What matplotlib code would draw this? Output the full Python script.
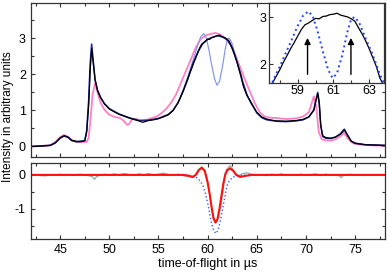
import numpy as np
import matplotlib
matplotlib.use("Agg")
import matplotlib.pyplot as plt
from matplotlib.ticker import MultipleLocator

plt.rcParams['font.family'] = ['Liberation Sans', 'DejaVu Sans']
plt.rcParams['font.size'] = 9
plt.rcParams['axes.unicode_minus'] = False

# measured signal (black)
black_t = [42.0, 43.0, 44.0, 44.5, 45.0, 45.4, 45.8, 46.2, 46.7, 47.2, 47.5, 47.7, 47.9, 48.05, 48.2,
           48.35, 48.55, 48.8, 49.1, 49.5, 50.0, 50.5, 51.0, 51.5, 52.0, 52.5, 53.0, 53.4, 54.0, 54.5,
           55.0, 55.5, 56.0, 56.5,
           57.0, 57.2, 57.4, 57.6, 57.8, 58.0, 58.2, 58.4, 58.6, 58.8, 59.0, 59.2, 59.4, 59.6, 59.8,
           60.0, 60.2, 60.4, 60.6, 60.8, 61.0, 61.2, 61.4, 61.6, 61.8, 62.0, 62.2, 62.4, 62.6, 62.8,
           63.0, 63.2, 63.4, 63.6, 63.8, 64.0,
           64.5, 65.0, 65.5, 66.0, 66.5, 67.0, 68.0, 69.0, 69.7, 70.3, 70.8, 71.0, 71.2, 71.35, 71.5,
           71.7, 72.0, 72.5, 73.0, 73.5, 73.9, 74.2, 74.6, 75.0, 75.5, 76.0, 77.0, 78.0]
black_v = [0.00, 0.01, 0.03, 0.10, 0.24, 0.30, 0.26, 0.17, 0.14, 0.15, 0.16, 0.40, 1.15, 2.10, 2.72,
           2.35, 1.85, 1.55, 1.36, 1.18, 1.04, 0.96, 0.89, 0.84, 0.79, 0.75, 0.71, 0.67, 0.72, 0.74,
           0.77, 0.82, 0.88, 1.00,
           1.22, 1.34, 1.47, 1.60, 1.74, 1.88, 2.04, 2.18, 2.33, 2.46, 2.60, 2.74, 2.84, 2.88, 2.93,
           2.98, 2.97, 3.02, 3.03, 3.06, 3.07, 3.09, 3.05, 3.03, 3.01, 2.97, 2.92, 2.78, 2.65, 2.50,
           2.33, 2.14, 1.95, 1.70, 1.55, 1.42,
           1.18, 0.95, 0.82, 0.76, 0.73, 0.71, 0.70, 0.72, 0.75, 0.82, 1.00, 1.25, 1.46, 1.20, 0.60,
           0.30, 0.25, 0.23, 0.26, 0.34, 0.46, 0.32, 0.15, 0.09, 0.07, 0.05, 0.04, 0.03]

# simulation without the hole (navy)
navy_t = [42.0, 44.0, 44.5, 45.0, 45.4, 45.8, 46.2, 46.7, 47.2, 47.5, 47.7, 47.9, 48.05, 48.2, 48.35,
          48.55, 48.8, 49.1, 49.5, 50.0, 51.0, 52.0, 53.0, 54.0, 55.0, 56.0, 56.5, 57.0, 57.5, 58.0,
          58.5, 59.0, 59.5, 60.0, 60.5, 61.0, 61.5, 62.0, 62.5, 63.0, 63.5, 64.0, 64.5, 65.0, 65.5,
          66.0, 67.0, 68.0, 69.0, 69.7, 70.3, 70.8, 71.0, 71.2, 71.35, 71.5, 71.7, 72.0, 72.5, 73.0,
          73.5, 73.9, 74.2, 74.6, 75.0, 76.0, 78.0]
navy_v = [0.00, 0.03, 0.10, 0.23, 0.29, 0.25, 0.16, 0.13, 0.14, 0.16, 0.45, 1.30, 2.30, 2.84, 2.40,
          1.85, 1.56, 1.37, 1.19, 1.05, 0.90, 0.80, 0.72, 0.73, 0.78, 0.89, 1.01, 1.22, 1.53, 1.90,
          2.30, 2.62, 2.85, 2.97, 3.03, 3.07, 3.04, 2.96, 2.74, 2.33, 1.84, 1.42, 1.17, 0.93, 0.80,
          0.74, 0.70, 0.69, 0.71, 0.74, 0.82, 1.02, 1.28, 1.50, 1.22, 0.58, 0.28, 0.23, 0.22, 0.26,
          0.35, 0.48, 0.33, 0.15, 0.09, 0.05, 0.03]

# simulation with the hole (light blue / dotted in inset)
dip_t = [57.0, 57.5, 58.0, 58.5, 59.0, 59.3, 59.6, 59.85, 60.1, 60.4, 60.7, 60.95, 61.2, 61.5, 61.8,
         62.0, 62.2, 62.45, 62.8, 63.2, 63.6, 64.0, 64.5]
dip_v = [1.22, 1.55, 1.95, 2.38, 2.82, 3.04, 3.13, 3.02, 2.72, 2.28, 1.88, 1.70, 1.80, 2.20, 2.72,
         2.97, 3.01, 2.88, 2.55, 2.20, 1.78, 1.45, 1.15]

# second measurement (pink)
pink_t = [42.0, 43.0, 44.0, 44.5, 45.0, 45.4, 45.8, 46.2, 46.7, 47.2, 47.7, 47.9, 48.1, 48.3, 48.55,
          48.8, 49.1, 49.5, 50.0, 50.5, 51.0, 51.4, 51.8, 52.0, 52.3, 52.7, 53.2, 53.7, 54.2, 54.8,
          55.3, 55.8, 56.3, 56.8, 57.3, 57.8, 58.3, 58.8, 59.3, 59.8, 60.3, 60.8, 61.3, 61.8, 62.3,
          62.8, 63.3, 63.8, 64.3, 64.8, 65.3, 65.8, 66.3, 67.0, 68.0, 69.0, 69.7, 70.3, 70.8, 71.05,
          71.3, 71.6, 72.0, 72.5, 73.0, 73.5, 73.85, 74.2, 74.6, 75.0, 76.0, 78.0]
pink_v = [0.00, 0.01, 0.04, 0.12, 0.26, 0.32, 0.27, 0.17, 0.12, 0.12, 0.13, 0.25, 0.80, 1.45, 1.76,
          1.50, 1.22, 1.02, 0.88, 0.82, 0.80, 0.73, 0.60, 0.62, 0.75, 0.77, 0.72, 0.73, 0.78, 0.83,
          0.92, 1.05, 1.22, 1.45, 1.78, 2.10, 2.42, 2.75, 2.98, 3.08, 3.12, 3.15, 3.10, 3.00, 2.85,
          2.55, 2.20, 1.85, 1.52, 1.20, 0.95, 0.83, 0.80, 0.79, 0.76, 0.78, 0.83, 0.95, 1.39, 1.10,
          0.40, 0.20, 0.17, 0.16, 0.20, 0.28, 0.38, 0.25, 0.12, 0.07, 0.04, 0.02]

# difference panel
grey_t = [43.0, 43.5, 44.0, 44.5, 45.0, 45.5, 46.0, 46.5, 47.0, 47.5, 48.0, 48.3, 48.5, 48.7, 49.0,
          49.5, 50.0, 50.5, 51.0, 51.5, 52.0, 52.5, 53.0, 53.5, 54.0, 54.5, 55.0, 55.5, 56.0, 56.5,
          57.0, 57.5, 58.0, 58.5, 58.8, 59.1, 59.4, 59.7, 60.0, 60.3, 60.6, 60.85, 61.1, 61.4, 61.6,
          61.8, 62.0, 62.3, 62.6, 62.9, 63.2, 63.5, 64.0, 64.5, 65.0, 65.5, 66.0, 66.5, 67.0, 67.5,
          68.0, 68.5, 69.0, 69.5, 70.0, 70.5, 71.0, 71.5, 72.0, 72.5, 73.0, 73.4, 73.6, 73.8, 74.0,
          74.5, 75.0, 75.5, 76.0, 76.5, 77.0, 77.5, 78.0]
grey_v = [-0.02, -0.03, 0.01, -0.01, 0.02, -0.02, 0.01, -0.01, 0.02, 0.00, -0.03, -0.06, -0.13, -0.05, -0.02,
          0.02, -0.01, 0.03, 0.00, 0.04, 0.01, -0.02, 0.03, 0.00, 0.04, -0.01, 0.02, 0.05, 0.01, -0.02,
          0.02, -0.02, -0.05, -0.08, 0.02, 0.16, 0.23, 0.14, -0.20, -0.75, -1.25, -1.38, -1.25, -0.80, -0.35,
          0.05, 0.18, 0.27, 0.15, 0.02, -0.02, 0.03, 0.06, 0.02, -0.02, 0.01, -0.02, 0.02, 0.00, 0.03,
          -0.02, 0.01, -0.01, 0.02, -0.01, 0.01, 0.03, -0.02, 0.02, -0.01, 0.00, -0.03, -0.08, -0.02, -0.01,
          0.02, -0.01, 0.01, -0.02, 0.01, -0.01, 0.01, 0.00]

red_t = [42.0, 57.5, 58.0, 58.5, 58.8, 59.1, 59.4, 59.7, 60.0, 60.2, 60.4, 60.6, 60.8, 61.0, 61.2,
         61.4, 61.6, 61.8, 62.0, 62.3, 62.6, 62.9, 63.3, 63.8, 64.5, 78.0]
red_v = [0.0, 0.0, -0.02, -0.06, 0.0, 0.14, 0.21, 0.12, -0.22, -0.55, -0.95, -1.28, -1.40, -1.30, -1.00,
         -0.62, -0.25, 0.02, 0.14, 0.19, 0.12, 0.0, -0.06, -0.03, 0.0, 0.0]

bdot_t = [42.0, 57.0, 58.0, 58.6, 59.0, 59.3, 59.55, 59.8, 60.03, 60.2, 60.37, 60.6, 60.82, 61.05, 61.27,
          61.45, 61.61, 61.8, 61.94, 62.2, 62.6, 63.2, 64.0, 78.0]
bdot_v = [0.0, 0.0, -0.01, -0.04, -0.10, -0.20, -0.34, -0.57, -0.86, -1.13, -1.38, -1.62, -1.72, -1.63, -1.38,
          -1.12, -0.86, -0.57, -0.34, -0.17, -0.06, -0.02, 0.0, 0.0]

arrow_t = [59.55, 61.98]

spine_c = '#333333'


def style(ax):
    ax.tick_params(direction='in', which='both', top=True, right=True, colors=spine_c,
                   labelcolor='black', length=3, width=0.8)
    ax.tick_params(which='minor', length=2)
    for s in ax.spines.values():
        s.set_color(spine_c)
        s.set_linewidth(0.9)


fig = plt.figure(figsize=(3.87, 2.72), dpi=100)
ax1 = fig.add_axes([0.0793, 0.4217, 0.9145, 0.566])
ax2 = fig.add_axes([0.0793, 0.1202, 0.9145, 0.2794])

ax1.plot(pink_t, pink_v, color='#ff80c4', lw=1.3)
ax1.plot(dip_t, dip_v, color='#8a98ec', lw=0.9)
ax1.plot(navy_t, navy_v, color='#1c22a0', lw=1.1)
ax1.plot(black_t, black_v, color='black', lw=0.9)
ax1.set_xlim(42, 78)
ax1.set_ylim(-0.3, 3.97)
ax1.xaxis.set_major_locator(MultipleLocator(5))
ax1.xaxis.set_minor_locator(MultipleLocator(2.5))
ax1.yaxis.set_major_locator(MultipleLocator(1))
ax1.yaxis.set_minor_locator(MultipleLocator(0.5))
ax1.set_xticklabels([])
style(ax1)

ax2.plot(grey_t, grey_v, color='#9eaea6', lw=1.0)
ax2.plot(bdot_t, bdot_v, color='#3a5cff', lw=1.0, ls=':')
ax2.plot(red_t, red_v, color='#ff1010', lw=1.5)
ax2.set_xlim(42, 78)
ax2.set_ylim(-1.89, 0.34)
ax2.xaxis.set_major_locator(MultipleLocator(5))
ax2.xaxis.set_minor_locator(MultipleLocator(2.5))
ax2.yaxis.set_major_locator(MultipleLocator(1))
ax2.yaxis.set_minor_locator(MultipleLocator(0.5))
ax2.set_xlabel('time-of-flight in µs', labelpad=1)
style(ax2)

fig.text(0.021, 0.57, 'Intensity in arbitrary units', rotation=90, va='center', ha='center',
         fontsize=8.5)

# inset
ax3 = fig.add_axes([0.695, 0.696, 0.2972, 0.293])
ax3.plot(black_t, black_v, color='black', lw=0.9)
ax3.plot(dip_t, dip_v, color='#2244ff', lw=1.4, ls=':')
for t in arrow_t:
    ax3.annotate('', xy=(t, 2.62), xytext=(t, 1.72),
                 arrowprops=dict(arrowstyle='-|>', color='black', lw=1.0, mutation_scale=9))
ax3.set_xlim(57.39, 63.83)
ax3.set_ylim(1.6, 3.31)
ax3.set_xticks([59, 61, 63])
ax3.set_yticks([2, 3])
ax3.xaxis.set_minor_locator(MultipleLocator(1))
ax3.tick_params(pad=2)
style(ax3)
ax3.tick_params(top=False, right=False, which='both')
ax3.patch.set_facecolor('white')

fig.savefig('out.png', dpi=100)
